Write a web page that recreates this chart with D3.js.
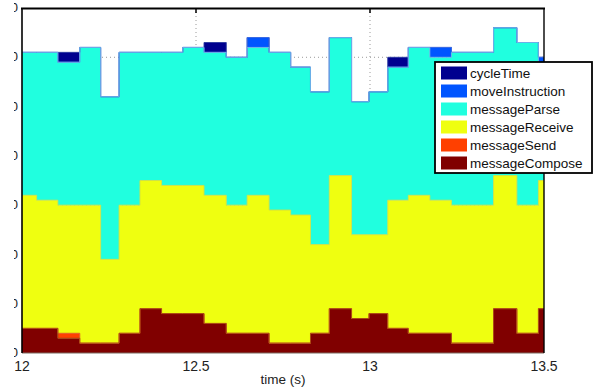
<!DOCTYPE html>
<html>
<head>
<meta charset="utf-8">
<script src="https://cdn.jsdelivr.net/npm/d3@7"></script>
<style>
  body { margin: 0; background: #fff; }
  svg { display: block; font-family: "Liberation Sans", Arial, sans-serif; }
</style>
</head>
<body>
<div id="chart"></div>
<script>
// Time stamps where each cycle starts (s), last one ends at cycleEnd
const binStart = [11.98, 12.042, 12.103, 12.166, 12.226, 12.279, 12.339, 12.401, 12.462, 12.523,
                  12.587, 12.647, 12.710, 12.772, 12.829, 12.883, 12.947, 12.997, 13.051, 13.110,
                  13.172, 13.234, 13.296, 13.355, 13.422, 13.484];
const cycleEnd = 13.545;

// Series values per cycle (ms), bottom of stack first
const messageCompose = [5, 5, 3, 2, 2, 4, 9, 8, 8, 6, 4, 4, 2, 2, 4, 9, 7, 8, 5, 4, 4, 2, 2, 9, 4, 9];
const messageSend    = [0, 0, 1, 0, 0, 0, 0, 0, 0, 0, 0, 0, 0, 0, 0, 0, 0, 0, 0, 0, 0, 0, 0, 0, 0, 0];
const messageReceive = [27, 26, 26, 28, 17, 26, 26, 26, 26, 26, 26, 28, 27, 26, 18, 27, 17, 16, 26, 28, 27, 28, 28, 27, 26, 26];
const messageParse   = [29, 30, 29, 32, 33, 31, 26, 27, 28, 29, 30, 30, 32, 30, 31, 28, 27, 29, 27, 30, 29, 31, 31, 30, 33, 24];
const moveInstruction = [0, 0, 0, 0, 0, 0, 0, 0, 0, 0, 0, 2, 0, 0, 0, 0, 0, 0, 0, 0, 2, 0, 0, 0, 0, 1];
const cycleTime      = [0, 0, 2, 0, 0, 0, 0, 0, 0, 2, 0, 0, 0, 0, 0, 0, 0, 0, 2, 0, 0, 0, 0, 0, 0, 0];

const xTicks = [12, 12.5, 13, 13.5];
const yTicks = [0, 10, 20, 30, 40, 50, 60, 70];

const seriesKeys = ["messageCompose", "messageSend", "messageReceive", "messageParse", "moveInstruction", "cycleTime"];
const seriesValues = { messageCompose, messageSend, messageReceive, messageParse, moveInstruction, cycleTime };
const legendOrder = ["cycleTime", "moveInstruction", "messageParse", "messageReceive", "messageSend", "messageCompose"];

function drawChart() {
    const width = 597, height = 390;
    const margin = { top: 8, right: 53, bottom: 37, left: 22 };
    const innerW = width - margin.left - margin.right;
    const innerH = height - margin.top - margin.bottom;

    const color = d3.scaleOrdinal()
        .domain(seriesKeys)
        .range(["#800000", "#ff4000", "#efff10", "#20ffdf", "#0055ff", "#00008f"]);
    const edge = d3.scaleOrdinal()
        .domain(seriesKeys)
        .range(["#a04a10", "#e05020", "#d4e040", "#70b8e8", "#3a70ee", "#2a3aa0"]);

    const svg = d3.select("#chart").append("svg")
        .attr("width", width)
        .attr("height", height);

    const x = d3.scaleLinear().domain([12, 13.5]).range([margin.left, margin.left + innerW]);
    const y = d3.scaleLinear().domain([0, 70]).range([margin.top + innerH, margin.top]);

    // Table for the stack, with an extra row so the last step reaches its end time
    const rows = binStart.map((t, i) => {
        const r = { t };
        seriesKeys.forEach(k => r[k] = seriesValues[k][i]);
        return r;
    });
    const lastRow = Object.assign({}, rows[rows.length - 1], { t: cycleEnd });
    rows.push(lastRow);

    const stacked = d3.stack().keys(seriesKeys)(rows);

    svg.append("clipPath").attr("id", "plotClip")
        .append("rect")
        .attr("x", margin.left).attr("y", margin.top)
        .attr("width", innerW).attr("height", innerH);
    svg.append("clipPath").attr("id", "labelClip")
        .append("rect")
        .attr("x", 14).attr("y", 0)
        .attr("width", width).attr("height", height);

    // Grid lines (dotted, behind the areas)
    const grid = svg.append("g");
    grid.selectAll(".gy")
        .data(yTicks.slice(1, -1))
        .enter().append("line")
        .attr("x1", margin.left).attr("x2", margin.left + innerW)
        .attr("y1", d => y(d)).attr("y2", d => y(d))
        .attr("stroke", "#9a9a9a")
        .attr("stroke-width", 1)
        .attr("stroke-dasharray", "1,3");
    grid.selectAll(".gx")
        .data(xTicks.slice(1, -1))
        .enter().append("line")
        .attr("x1", d => x(d)).attr("x2", d => x(d))
        .attr("y1", margin.top).attr("y2", margin.top + innerH)
        .attr("stroke", "#9a9a9a")
        .attr("stroke-width", 1)
        .attr("stroke-dasharray", "1,3");

    // Inner tick marks on the top edge
    grid.selectAll(".tx")
        .data(xTicks.slice(1, -1))
        .enter().append("line")
        .attr("x1", d => x(d)).attr("x2", d => x(d))
        .attr("y1", margin.top).attr("y2", margin.top + 5)
        .attr("stroke", "#000")
        .attr("stroke-width", 1.5);

    // Stacked step areas
    const area = d3.area()
        .curve(d3.curveStepAfter)
        .x(d => x(d.data.t))
        .y0(d => y(d[0]))
        .y1(d => y(d[1]));
    const topLine = d3.line()
        .curve(d3.curveStepAfter)
        .x(d => x(d.data.t))
        .y(d => y(d[1]));

    const areas = svg.append("g").attr("clip-path", "url(#plotClip)");
    areas.selectAll("path.area")
        .data(stacked)
        .enter().append("path")
        .attr("class", "area")
        .attr("fill", d => color(d.key))
        .attr("d", area);

    // Top edges, drawn from the top series down so lower edges win where they coincide
    areas.selectAll("path.edge")
        .data(stacked.slice().reverse())
        .enter().append("path")
        .attr("class", "edge")
        .attr("fill", "none")
        .attr("stroke", d => edge(d.key))
        .attr("stroke-width", 0.9)
        .attr("d", topLine);

    // Box around the plot
    svg.append("line")
        .attr("x1", margin.left).attr("x2", margin.left + innerW)
        .attr("y1", margin.top + innerH).attr("y2", margin.top + innerH)
        .attr("stroke", "#7a6a60").attr("stroke-width", 1);
    svg.append("line")
        .attr("x1", margin.left - 1).attr("x2", margin.left + innerW + 1)
        .attr("y1", margin.top + 0.5).attr("y2", margin.top + 0.5)
        .attr("stroke", "#000").attr("stroke-width", 2);
    svg.append("line")
        .attr("x1", margin.left).attr("x2", margin.left)
        .attr("y1", margin.top).attr("y2", margin.top + innerH)
        .attr("stroke", "#000").attr("stroke-width", 1.6);
    svg.append("line")
        .attr("x1", margin.left + innerW).attr("x2", margin.left + innerW)
        .attr("y1", margin.top).attr("y2", margin.top + innerH)
        .attr("stroke", "#000").attr("stroke-width", 1.4);

    // Tick labels
    svg.append("g")
        .selectAll("text")
        .data(xTicks)
        .enter().append("text")
        .attr("x", d => x(d))
        .attr("y", 371)
        .attr("text-anchor", "middle")
        .style("font-size", "14px")
        .style("fill", "#222")
        .text(d => d);

    svg.append("g")
        .attr("clip-path", "url(#labelClip)")
        .selectAll("text")
        .data(yTicks)
        .enter().append("text")
        .attr("x", 18)
        .attr("y", d => y(d))
        .attr("dy", "0.32em")
        .attr("text-anchor", "end")
        .style("font-size", "13px")
        .style("fill", "#222")
        .text(d => d);

    svg.append("text")
        .attr("x", 283)
        .attr("y", 384)
        .attr("text-anchor", "middle")
        .style("font-size", "13.5px")
        .style("fill", "#222")
        .text("time (s)");

    // Legend
    const legend = svg.append("g").attr("transform", "translate(435,62)");
    legend.append("rect")
        .attr("x", 0).attr("y", 0)
        .attr("width", 157).attr("height", 111)
        .attr("fill", "#fff")
        .attr("stroke", "#000")
        .attr("stroke-width", 1.8);
    legend.selectAll("rect.sw")
        .data(legendOrder)
        .enter().append("rect")
        .attr("class", "sw")
        .attr("x", 6)
        .attr("y", (d, i) => 4.5 + i * 18)
        .attr("width", 26)
        .attr("height", 13)
        .attr("fill", d => color(d));
    legend.selectAll("text")
        .data(legendOrder)
        .enter().append("text")
        .attr("x", 35)
        .attr("y", (d, i) => 11 + i * 18)
        .attr("dy", "0.35em")
        .style("font-size", "13.5px")
        .style("fill", "#111")
        .text(d => d);
}

drawChart();
</script>
</body>
</html>
